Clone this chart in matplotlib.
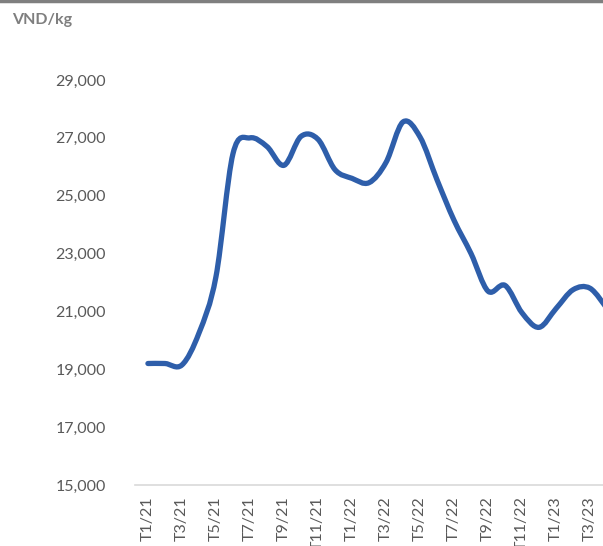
import numpy as np
import matplotlib.pyplot as plt
from matplotlib.path import Path
from matplotlib.patches import PathPatch

# monthly price, T1/21 .. T4/23 (VND/kg)
months = ["T1/21", "T2/21", "T3/21", "T4/21", "T5/21", "T6/21", "T7/21", "T8/21",
          "T9/21", "T10/21", "T11/21", "T12/21", "T1/22", "T2/22", "T3/22", "T4/22",
          "T5/22", "T6/22", "T7/22", "T8/22", "T9/22", "T10/22", "T11/22", "T12/22",
          "T1/23", "T2/23", "T3/23", "T4/23"]
price = [19200, 19200, 19150, 20250, 22200, 26450, 27000, 26700,
         26050, 27050, 26950, 25900, 25600, 25450, 26150, 27550,
         27030, 25550, 24150, 23000, 21700, 21900, 20950, 20450,
         21100, 21750, 21800, 21100]
yticks = [15000, 17000, 19000, 21000, 23000, 25000, 27000, 29000]

plt.rcParams['font.family'] = ['Lato', 'DejaVu Sans']

fig = plt.figure(figsize=(6.03, 5.46), dpi=100)
ax = fig.add_axes([0.2239, 0.1117, 0.7761, 0.7418])

# smooth line like Excel (cubic bezier through the points)
x = np.arange(len(price), dtype=float)
y = np.array(price, dtype=float)
verts = [(x[0], y[0])]
codes = [Path.MOVETO]
n = len(x)
for i in range(n - 1):
    p0 = np.array([x[max(i - 1, 0)], y[max(i - 1, 0)]])
    p1 = np.array([x[i], y[i]])
    p2 = np.array([x[i + 1], y[i + 1]])
    p3 = np.array([x[min(i + 2, n - 1)], y[min(i + 2, n - 1)]])
    c1 = p1 + (p2 - p0) / 6
    c2 = p2 - (p3 - p1) / 6
    verts += [tuple(c1), tuple(c2), tuple(p2)]
    codes += [Path.CURVE4] * 3
ax.add_patch(PathPatch(Path(verts, codes), fill=False, edgecolor='#2E5EAA',
                       lw=3.8, capstyle='round', joinstyle='round'))

ax.set_xlim(-0.76, 26.76)
ax.set_ylim(15000, 29000)
ax.set_yticks(yticks)
ax.set_yticklabels([f"{v:,}" for v in yticks])
ax.set_xticks(x[::2])
ax.set_xticklabels(months[::2], rotation=90, va='top')

for s in ['top', 'right', 'left']:
    ax.spines[s].set_visible(False)
ax.spines['bottom'].set_color('#d9d9d9')
ax.spines['bottom'].set_linewidth(1.2)
ax.tick_params(axis='both', which='both', length=0, colors='#595959', labelsize=11.5)
ax.tick_params(axis='y', pad=21)
ax.tick_params(axis='x', pad=8)

fig.text(0.02, 0.963, "VND/kg", fontsize=11.5, fontweight='bold', color='#7f7f7f',
         va='center', ha='left')
fig.add_artist(plt.Line2D([0, 1], [0.998, 0.998], transform=fig.transFigure,
                          color='#7f7f7f', lw=2.5))

plt.savefig('out.png', dpi=100)
